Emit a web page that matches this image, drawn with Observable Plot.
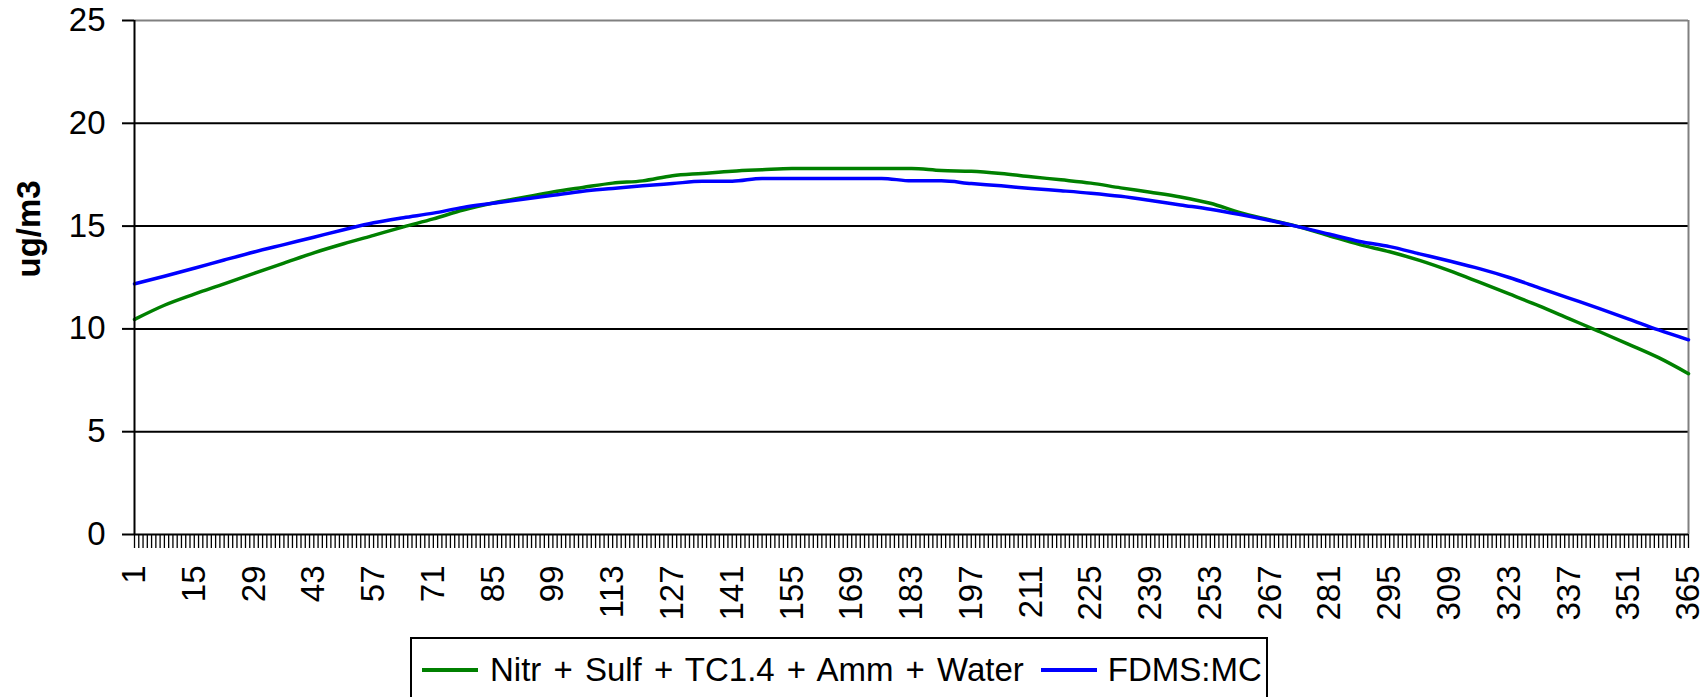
<!DOCTYPE html>
<html>
<head>
<meta charset="utf-8">
<script src="https://cdn.jsdelivr.net/npm/d3@7"></script>
<script src="https://cdn.jsdelivr.net/npm/@observablehq/plot@0.6"></script>
<style>
  html, body { margin: 0; padding: 0; background: #fff; overflow: hidden; }
  body { font-family: "Liberation Sans", Arial, sans-serif; }
  #legend {
    margin-left: 410px; margin-top: 5px; width: 858px; height: 66px;
    border: 2px solid #000; box-sizing: border-box;
    display: flex; align-items: center; font-size: 33px; color: #000; white-space: nowrap;
  }
  .sw { display: inline-block; width: 56px; height: 4px; }
</style>
</head>
<body>
<div id="chart"></div>
<div id="legend"></div>
<script>
const days = [1, 8, 15, 22, 29, 36, 43, 50, 57, 64, 71, 78, 85, 92, 99, 106, 113, 120, 127, 134, 141, 148, 155, 162, 169, 176, 183, 190, 197, 204, 211, 218, 225, 232, 239, 246, 253, 260, 267, 274, 281, 288, 295, 302, 309, 316, 323, 330, 337, 344, 351, 358, 365];
const greenValues = [10.46, 11.15, 11.69, 12.19, 12.70, 13.20, 13.70, 14.14, 14.55, 14.96, 15.35, 15.78, 16.12, 16.39, 16.66, 16.88, 17.09, 17.20, 17.45, 17.56, 17.67, 17.74, 17.80, 17.80, 17.80, 17.80, 17.80, 17.70, 17.67, 17.56, 17.40, 17.25, 17.09, 16.86, 16.65, 16.42, 16.11, 15.65, 15.30, 14.95, 14.52, 14.10, 13.75, 13.33, 12.83, 12.27, 11.70, 11.12, 10.50, 9.88, 9.25, 8.60, 7.82];
const blueValues = [12.19, 12.56, 12.95, 13.35, 13.74, 14.10, 14.46, 14.82, 15.16, 15.41, 15.63, 15.91, 16.11, 16.31, 16.50, 16.70, 16.83, 16.96, 17.07, 17.18, 17.18, 17.32, 17.32, 17.32, 17.32, 17.32, 17.20, 17.20, 17.07, 16.96, 16.83, 16.72, 16.60, 16.45, 16.25, 16.03, 15.82, 15.56, 15.27, 14.95, 14.60, 14.25, 14.00, 13.65, 13.30, 12.93, 12.50, 12.00, 11.50, 11.00, 10.48, 9.95, 9.47];
const xTickLabels = [1, 15, 29, 43, 57, 71, 85, 99, 113, 127, 141, 155, 169, 183, 197, 211, 225, 239, 253, 267, 281, 295, 309, 323, 337, 351, 365];
const yTicks = [0, 5, 10, 15, 20, 25];
const seriesNames = ["Nitr + Sulf + TC1.4 + Amm + Water", "FDMS:MC"];
const seriesColors = ["#008000", "#0000ff"];
const yTitle = "ug/m3";

const rows = days.flatMap((d, i) => [
  {day: d, value: greenValues[i], series: seriesNames[0]},
  {day: d, value: blueValues[i], series: seriesNames[1]}
]);
const allDays = d3.range(1, 366);

const chart = Plot.plot({
  width: 1706, height: 632,
  marginLeft: 134, marginRight: 18, marginTop: 20, marginBottom: 98,
  style: {fontFamily: "'Liberation Sans', Arial, sans-serif", fontSize: "33px", color: "#000", background: "#fff", overflow: "visible"},
  x: {type: "linear", domain: [1, 365]},
  y: {domain: [0, 25]},
  color: {domain: seriesNames, range: seriesColors},
  marks: [
    Plot.gridY([5, 10, 15, 20], {stroke: "#000", strokeOpacity: 1, strokeWidth: 2}),
    Plot.ruleY([25], {stroke: "#808080", strokeWidth: 2}),
    Plot.ruleX([365], {stroke: "#808080", strokeWidth: 2}),
    Plot.line(rows, {x: "day", y: "value", z: "series", stroke: "series", strokeWidth: 3.5, curve: "monotone-x"}),
    Plot.ruleX([1], {stroke: "#000", strokeWidth: 2}),
    Plot.ruleY([0], {stroke: "#000", strokeWidth: 2}),
    Plot.axisY(yTicks, {tickSize: 12, tickPadding: 17, strokeWidth: 2, label: null, fontSize: 33}),
    Plot.axisX(allDays, {tickSize: 14, strokeWidth: 1.3, tickFormat: () => "", label: null}),
    Plot.axisX(xTickLabels, {tickSize: 0, tickPadding: 31, tickRotate: -90, label: null, fontSize: 33}),
    Plot.text([yTitle], {frameAnchor: "left", dx: -105, rotate: -90, fontWeight: "bold", fontSize: 33})
  ]
});
document.getElementById("chart").appendChild(chart);

const legend = document.getElementById("legend");
legend.innerHTML =
  `<span class="sw" style="background:${seriesColors[0]};margin-left:10px;margin-right:12px"></span>` +
  `<span style="word-spacing:3px">${seriesNames[0]}</span>` +
  `<span class="sw" style="background:${seriesColors[1]};margin-left:17px;margin-right:11px"></span>` +
  `<span>${seriesNames[1]}</span>`;
</script>
</body>
</html>
